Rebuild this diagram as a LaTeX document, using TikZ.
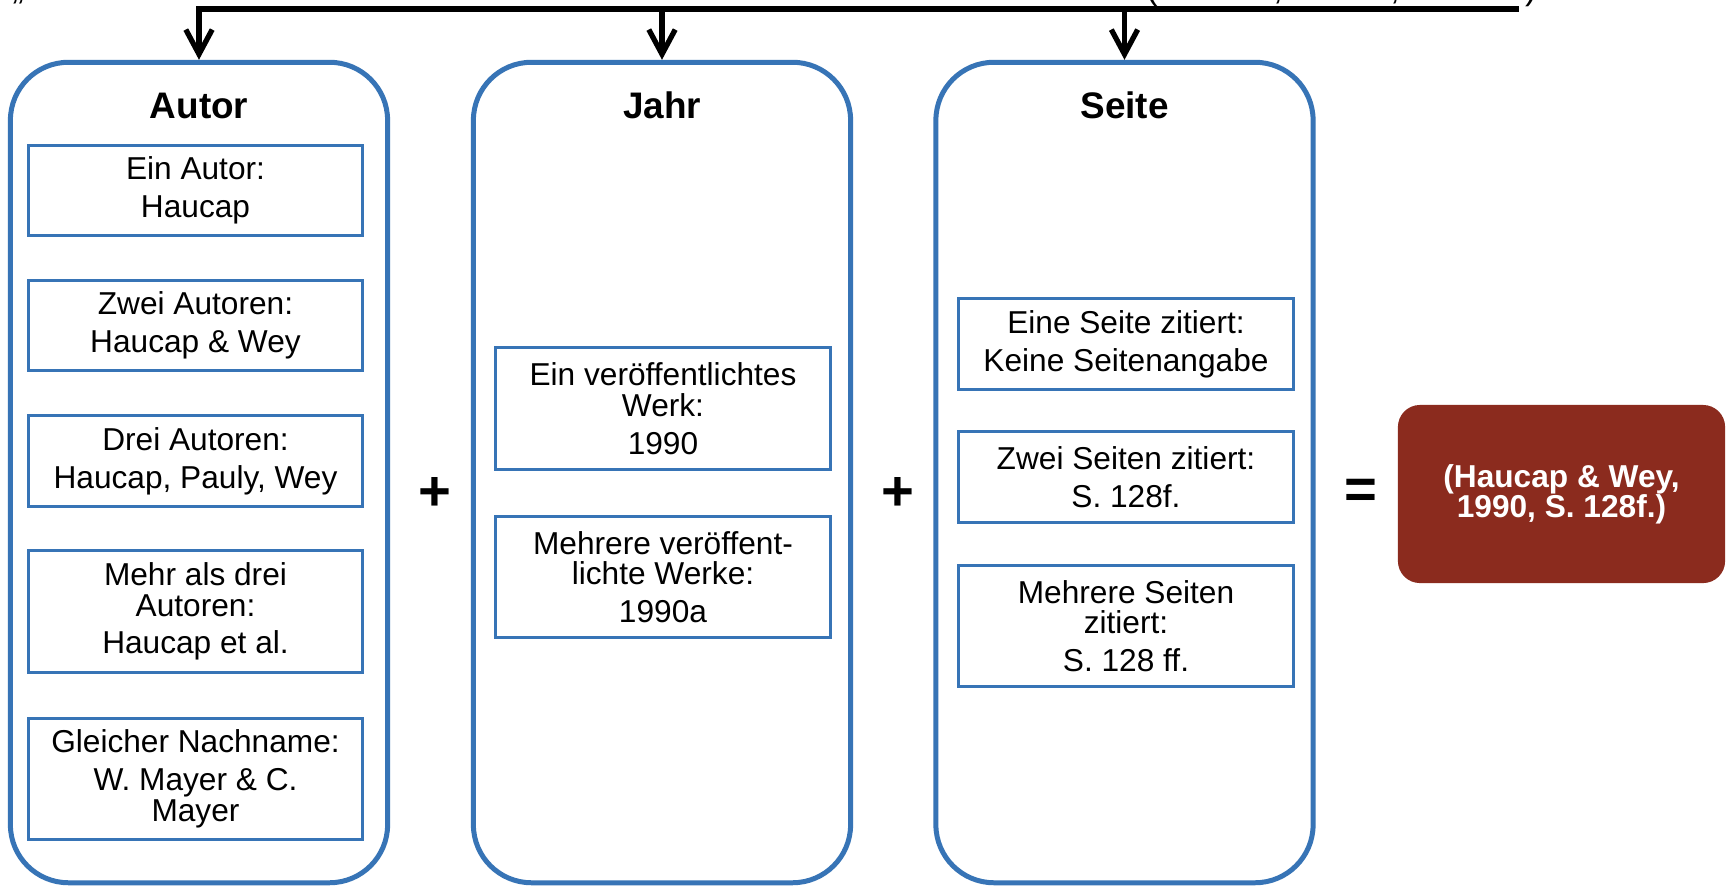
\documentclass[tikz,border=0pt]{standalone}
\usepackage{fontspec}
\setmainfont{Liberation Sans}
\usetikzlibrary{arrows.meta}
\definecolor{colblue}{RGB}{55,116,182}
\definecolor{resred}{RGB}{139,43,30}
\newcommand{\parbrk}{\\[2.1pt]}
\begin{document}
\begin{tikzpicture}[x=0.01cm,y=-0.01cm,
  column/.style={draw=colblue, line width=1.42pt, rounded corners=0.58cm,
    minimum width=3.77cm, minimum height=8.2cm, inner sep=0pt},
  head/.style={anchor=base, font=\fontsize{10.5}{12}\selectfont\bfseries},
  item/.style={draw=colblue, line width=0.85pt, align=center, inner sep=0pt,
    minimum width=3.34cm, font=\fontsize{9}{8.7}\selectfont},
  sign/.style={font=\fontsize{16}{16}\selectfont\bfseries, inner sep=0pt},
  frag/.style={anchor=base, font=\fontsize{10}{12}\selectfont, inner sep=0pt},
  topline/.style={line width=1.7pt},
  arrow/.style={line width=1.5pt, -{Straight Barb[length=7pt,width=7.5pt]}},
  result/.style={fill=resred, rounded corners=0.22cm, minimum width=3.27cm,
    minimum height=1.78cm, text=white, align=center, inner sep=0pt,
    font=\fontsize{9}{8.5}\selectfont\bfseries}
]
\useasboundingbox[fill=white] (0,0) rectangle (1727,887);

% cut-off text at the top edge
\node[frag] (q1) at (18,-1) {„};
\node[frag] (p1) at (1152,-1) {(};
\node[frag] (c1) at (1278,-1) {,};
\node[frag] (c2) at (1395,-1) {,};
\node[frag] (p2) at (1531,-1) {)};

% columns
\node[column] (autor) at (199,472.5) {};
\node[column] (jahr)  at (662,472.5) {};
\node[column] (seite) at (1124.5,472.5) {};

\node[head] (autorT) at (199,118) {Autor};
\node[head] (jahrT)  at (662,118) {Jahr};
\node[head] (seiteT) at (1124.5,118) {Seite};

% top connector
\coordinate (tl) at (196,9);
\coordinate (tr) at (1519,9);
\coordinate (aT) at (199,9);
\coordinate (jT) at (662,9);
\coordinate (sT) at (1124.5,9);
\draw[topline] (tl) -- (tr);
\draw[arrow] (aT) -- (autor.north);
\draw[arrow] (jT) -- (jahr.north);
\draw[arrow] (sT) -- (seite.north);

% Autor items
\node[item, minimum height=0.89cm] (a1) at (195.5,190.5) {Ein Autor:\parbrk Haucap};
\node[item, minimum height=0.89cm] (a2) at (195.5,325.5) {Zwei Autoren:\parbrk Haucap \& Wey};
\node[item, minimum height=0.90cm] (a3) at (195.5,461) {Drei Autoren:\parbrk Haucap, Pauly, Wey};
\node[item, minimum height=1.21cm] (a4) at (195.5,611.5) {Mehr als drei\\Autoren:\parbrk Haucap et al.};
\node[item, minimum height=1.20cm] (a5) at (195.5,779) {Gleicher Nachname:\parbrk W. Mayer \& C.\\Mayer};

% Jahr items
\node[item, minimum height=1.21cm] (j1) at (663,408.5) {Ein veröffentlichtes\\Werk:\parbrk 1990};
\node[item, minimum height=1.20cm] (j2) at (663,577) {Mehrere veröffent-\\lichte Werke:\parbrk 1990a};

% Seite items
\node[item, minimum height=0.90cm] (s1) at (1126,344) {Eine Seite zitiert:\parbrk Keine Seitenangabe};
\node[item, minimum height=0.90cm] (s2) at (1126,477) {Zwei Seiten zitiert:\parbrk S. 128f.};
\node[item, minimum height=1.20cm] (s3) at (1126,626) {Mehrere Seiten\\zitiert:\parbrk S. 128 ff.};

% operators
\node[sign] (plus1) at (435,494) {+};
\node[sign] (plus2) at (898,494) {+};
\node[sign] (eq) at (1361,494) {=};

% result
\node[result] (res) at (1561.5,494) {(Haucap \& Wey,\\1990, S. 128f.)};
\end{tikzpicture}
\end{document}
